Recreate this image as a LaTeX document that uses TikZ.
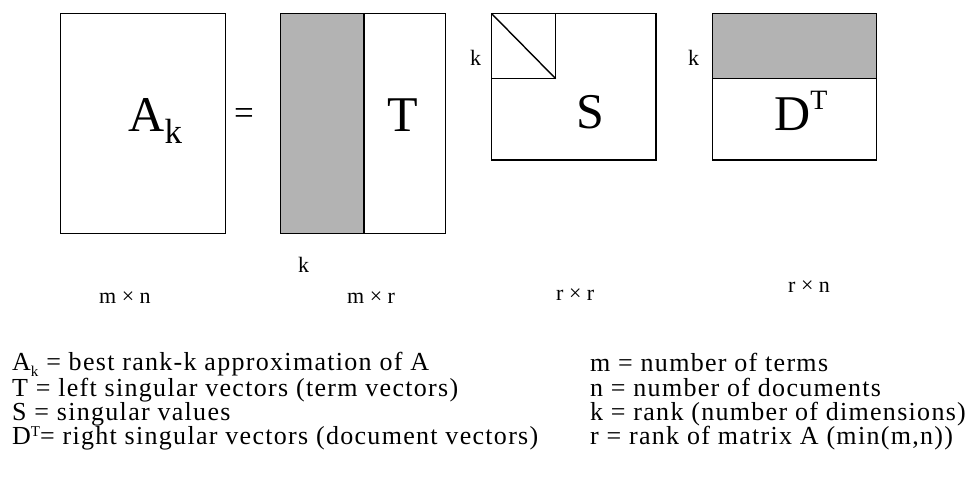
\documentclass[tikz,border=0pt]{standalone}
\usepackage{fontspec}
\setmainfont{Liberation Serif}
\newfontfamily\legfont[LetterSpace=5]{Liberation Serif}
\definecolor{shade}{RGB}{179,179,179}
\tikzset{
  mat/.style={draw=black, line width=1.4pt},
  shaded/.style={fill=shade},
  lbl/.style={inner sep=0pt, anchor=base west},
  big/.style={lbl, font=\fontsize{50}{50}\selectfont},
  dimlbl/.style={lbl, font=\fontsize{22}{22}\selectfont},
  leg/.style={lbl, font=\legfont\fontsize{26}{26}\selectfont},
}
\begin{document}
\begin{tikzpicture}[x=1pt,y=-1pt]
\useasboundingbox (0,0) rectangle (975,481);
% A_k
\draw[mat] (60.7,13.7) rectangle (225.3,233.7);
% T
\fill[shaded] (280.7,13.7) rectangle (364,233.7);
\draw[mat] (280.7,13.7) rectangle (445.7,233.7);
\draw[mat] (364,13.7) -- (364,233.7);
% S
\draw[mat] (491.7,13.7) rectangle (656,160);
\draw[mat] (491.7,13.7) rectangle (555.7,78.7);
\draw[mat] (491.7,13.7) -- (555.7,78.7);
% D^T
\fill[shaded] (712.3,13.7) rectangle (876.7,78.7);
\draw[mat] (712.3,13.7) rectangle (876.7,160);
\draw[mat] (712.3,78.7) -- (876.7,78.7);
% big labels
\node[big] (ak) at (128.3,131.7) {A\raisebox{-12.3pt}{\fontsize{35}{35}\selectfont k}};
\node[inner sep=0pt, font=\fontsize{35}{35}\selectfont] (eq) at (244,116.7) {=};
\node[big] (t) at (387.7,131.7) {T};
\node[big] (s) at (576.7,128.3) {S};
\node[big] (dt) at (774,131) {D\raisebox{21pt}{\fontsize{28}{28}\selectfont T}};
% k labels
\node[dimlbl] (ks) at (470,66) {k};
\node[dimlbl] (kd) at (688,66) {k};
% dimension labels
\node[dimlbl] (mn) at (99,304) {m × n};
\node[dimlbl] (kt) at (298,272.7) {k};
\node[dimlbl] (mr) at (347,303) {m × r};
\node[dimlbl] (rr) at (556,301) {r × r};
\node[dimlbl] (rn) at (788,292) {r × n};
% legend left
\node[leg] (l1) at (12,370.5) {A\smash{\raisebox{-6pt}{\fontsize{15}{15}\selectfont k}} = best rank-k approximation of A};
\node[leg] (l2) at (12,396) {T = left singular vectors (term vectors)};
\node[leg] (l3) at (12,420) {S = singular values};
\node[leg] (l4) at (12,444.5) {D\raisebox{8pt}{\fontsize{15}{15}\selectfont T}= right singular vectors (document vectors)};
% legend right
\node[leg] (r1) at (590,371) {m = number of terms};
\node[leg] (r2) at (590,396) {n = number of documents};
\node[leg] (r3) at (590,420) {k = rank (number of dimensions)};
\node[leg] (r4) at (590,444.5) {r = rank of matrix A (min(m,n))};
\end{tikzpicture}
\end{document}
